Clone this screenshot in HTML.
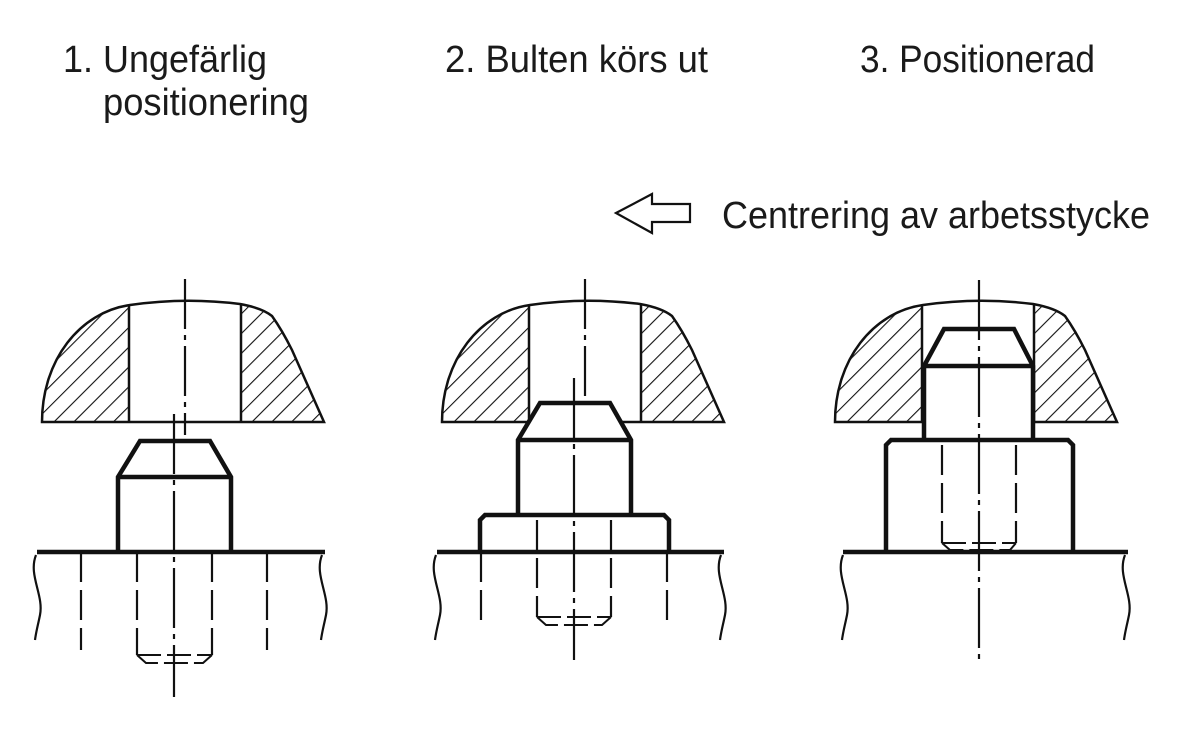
<!DOCTYPE html>
<html><head><meta charset="utf-8"><style>
html,body{margin:0;padding:0;background:#fff;}
svg{display:block}
text{font-family:"Liberation Sans",sans-serif;fill:#1a1a1a}
</style></head><body>
<svg width="1200" height="730" viewBox="0 0 1200 730" xmlns="http://www.w3.org/2000/svg">
<defs>
<pattern id="h" patternUnits="userSpaceOnUse" width="14" height="14" patternTransform="rotate(45)">
<line x1="0" y1="0" x2="0" y2="14" stroke="#111" stroke-width="2.2"/>
</pattern>
<path id="cap" d="M42,422 C42,360 80,312 130,305 Q185,297 240,304 Q262,308 272,316 Q282,330 292,350 L324,422 Z"/>
<clipPath id="cc"><use href="#cap"/></clipPath>
</defs>
<g font-size="38">
<text x="63" y="72" textLength="204" lengthAdjust="spacingAndGlyphs">1. Ungefärlig</text>
<text x="103" y="115" textLength="206" lengthAdjust="spacingAndGlyphs">positionering</text>
<text x="445" y="72" textLength="263" lengthAdjust="spacingAndGlyphs">2. Bulten körs ut</text>
<text x="860" y="72" textLength="235" lengthAdjust="spacingAndGlyphs">3. Positionerad</text>
<text x="722" y="228" textLength="428" lengthAdjust="spacingAndGlyphs">Centrering av arbetsstycke</text>
</g>
<path d="M616,213 L652,194 L652,204 L690,204 L690,222 L652,222 L652,233 Z" fill="none" stroke="#111" stroke-width="2.2" stroke-linejoin="miter"/>

<g fill="none" stroke="#111" stroke-linecap="butt">
<g id="capg">
<g clip-path="url(#cc)"><rect x="30" y="280" width="310" height="150" fill="url(#h)" stroke="none"/></g>
<rect x="129" y="290" width="112" height="133" fill="#fff" stroke="none"/>
<use href="#cap" stroke-width="2.5"/>
<line x1="129" y1="306" x2="129" y2="422" stroke-width="2.5"/>
<line x1="241" y1="304" x2="241" y2="422" stroke-width="2.5"/>
</g>
<use href="#capg" transform="translate(400,0)"/>
<use href="#capg" transform="translate(793,0)"/>

<!-- Panel 1 -->
<line x1="185" y1="279" x2="185" y2="435" stroke-width="2.2" stroke-dasharray="50,6,5,6"/>
<path d="M118,552 L118,477 L140,441 L210,441 L231,477 L231,552" stroke-width="4.5" fill="#fff"/>
<line x1="118" y1="477" x2="231" y2="477" stroke-width="4.5"/>
<line x1="174" y1="414" x2="174" y2="697" stroke-width="2.2" stroke-dasharray="60,6,5,6"/>
<line x1="37" y1="552" x2="325" y2="552" stroke-width="4.5"/>
<path d="M36,555 C28,575 44,595 40,615 C38,625 36,632 35,640" stroke-width="2.2"/>
<path d="M322,555 C314,575 330,595 326,615 C324,625 322,632 321,640" stroke-width="2.2"/>
<g stroke-width="2.2" stroke-dasharray="30,8">
<line x1="81" y1="552" x2="81" y2="650"/><line x1="267" y1="552" x2="267" y2="650"/>
<line x1="137" y1="552" x2="137" y2="655"/><line x1="212" y1="552" x2="212" y2="655"/>
</g>
<path d="M137,655 L146,663 L203,663 L212,655 M137,655 L212,655" stroke-width="2" stroke-dasharray="24,6"/>

<!-- Panel 2 -->
<line x1="585" y1="279" x2="585" y2="430" stroke-width="2.2" stroke-dasharray="50,6,5,6"/>
<path d="M518,515 L518,440 L540,403 L610,403 L631,440 L631,515" stroke-width="4.5" fill="#fff"/>
<line x1="518" y1="440" x2="631" y2="440" stroke-width="4.5"/>
<path d="M480,552 L480,520 L485,515 L664,515 L669,520 L669,552" stroke-width="4.5"/>
<line x1="574" y1="378" x2="574" y2="660" stroke-width="2.2" stroke-dasharray="60,6,5,6"/>
<line x1="437" y1="552" x2="724" y2="552" stroke-width="4.5"/>
<path d="M436,555 C428,575 444,595 440,615 C438,625 436,632 435,640" stroke-width="2.2"/>
<path d="M721,555 C713,575 729,595 725,615 C723,625 721,632 720,640" stroke-width="2.2"/>
<g stroke-width="2.2" stroke-dasharray="30,8">
<line x1="481" y1="552" x2="481" y2="625"/><line x1="667" y1="552" x2="667" y2="625"/>
<line x1="537" y1="520" x2="537" y2="617"/><line x1="611" y1="520" x2="611" y2="617"/>
</g>
<path d="M537,617 L546,625 L602,625 L611,617 M537,617 L611,617" stroke-width="2" stroke-dasharray="24,6"/>

<!-- Panel 3 -->
<path d="M924,440 L924,366 L944,329 L1014,329 L1033,366 L1033,440" stroke-width="4.5" fill="#fff"/>
<line x1="924" y1="366" x2="1033" y2="366" stroke-width="4.5"/>
<path d="M886,552 L886,445 L891,440 L1068,440 L1073,445 L1073,552" stroke-width="4.5"/>
<line x1="979" y1="280" x2="979" y2="660" stroke-width="2.2" stroke-dasharray="60,6,5,6"/>
<line x1="843" y1="552" x2="1128" y2="552" stroke-width="4.5"/>
<path d="M843,555 C835,575 851,595 847,615 C845,625 843,632 842,640" stroke-width="2.2"/>
<path d="M1125,555 C1117,575 1133,595 1129,615 C1127,625 1125,632 1124,640" stroke-width="2.2"/>
<g stroke-width="2.2" stroke-dasharray="30,8">
<line x1="942" y1="445" x2="942" y2="543"/><line x1="1016" y1="445" x2="1016" y2="543"/>
</g>
<path d="M942,543 L950,550 L1010,550 L1016,543 M942,543 L1016,543" stroke-width="2" stroke-dasharray="24,6"/>
</g>
</svg>
</body></html>
